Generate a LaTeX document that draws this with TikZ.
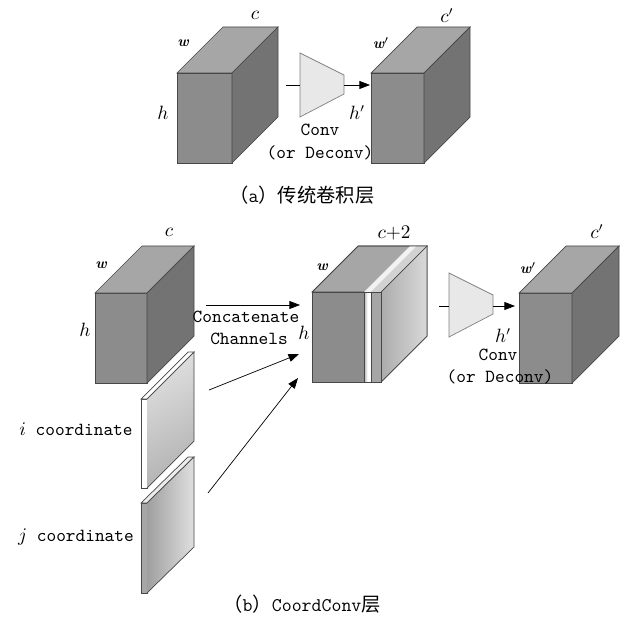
\documentclass[tikz,border=0pt]{standalone}
\usepackage{fontspec}
\newfontfamily\cjk{Noto Sans CJK SC}
\usetikzlibrary{arrows.meta}
\definecolor{cubefront}{gray}{0.55}
\definecolor{cubetop}{gray}{0.65}
\definecolor{cubeside}{gray}{0.45}
\definecolor{cubeedge}{gray}{0.28}
\definecolor{convfill}{gray}{0.91}
% cube: x, y (front top left), width, height, depth
\newcommand{\featcube}[5]{%
  \begin{scope}[shift={(#1,#2)}]
    \filldraw[cubefront, draw=cubeedge] (0,0) rectangle (#3,#4);
    \filldraw[cubetop, draw=cubeedge] (0,0) -- (#5,-#5) -- ({#3+#5},-#5) -- (#3,0) -- cycle;
    \filldraw[cubeside, draw=cubeedge] (#3,0) -- ({#3+#5},-#5) -- ({#3+#5},{#4-#5}) -- (#3,#4) -- cycle;
  \end{scope}}
% conv block: x, y of the left edge top
\newcommand{\convblock}[2]{%
  \begin{scope}[shift={(#1,#2)}]
    \filldraw[convfill, draw=gray] (0,0) -- (44,22) -- (44,41) -- (0,64) -- cycle;
  \end{scope}}
\newcommand{\wsym}{{\bfseries\itshape w}}

\begin{document}
\begin{tikzpicture}[x=0.02cm, y=-0.02cm, >={Triangle[length=6pt, width=4.5pt]},
    lbl/.style={inner sep=0pt, font=\fontsize{10.5}{12}\selectfont},
    wlbl/.style={inner sep=0pt, font=\fontsize{8.5}{10}\selectfont},
    txt/.style={inner sep=0pt, font=\ttfamily\fontsize{10.5}{12}\selectfont},
    captext/.style={inner sep=0pt, font=\cjk\fontsize{11}{13}\selectfont}]
  \useasboundingbox[fill=white] (0,0) rectangle (624,624);
  % (a) conventional layer
  \featcube{177}{73}{55}{90}{46}
  \convblock{300}{53}
  \featcube{371}{73}{53}{90}{46}
  \coordinate (convAin) at (286,85);
  \coordinate (convAl) at (300,85);
  \coordinate (convAr) at (344,85);
  \coordinate (cubeAout) at (370,85);
  \draw (convAin) -- (convAl);
  \draw[->] (convAr) -- (cubeAout);
  \node[lbl] (cA) at (255,15) {$c$};
  \node[wlbl] (wA) at (183,43) {\wsym};
  \node[lbl] (hA) at (163,113) {$h$};
  \node[txt] (convA) at (320,130) {Conv};
  \node[txt] (deconvA) at (320,153) {(or Deconv)};
  \node[lbl] (hpA) at (357,113) {$h'$};
  \node[wlbl] (wpA) at (381,43) {\wsym$'$};
  \node[lbl] (cpA) at (447,16) {$c'$};
  \node[captext] (capA) at (302,195) {（{\ttfamily a}）传统卷积层};
  % (b) CoordConv layer
  \featcube{95}{293}{52}{90}{47}
  % i coordinate slab
  \fill[white] (141,399) rectangle (147,488);
  \draw[cubeedge] (141,399) rectangle (147,488);
  \filldraw[white, draw=cubeedge] (141,399) -- (188,352) -- (194,352) -- (147,399) -- cycle;
  \shade[top color=gray!25, bottom color=gray!60, shading angle=30]
    (147,399) -- (194,352) -- (194,441) -- (147,488) -- cycle;
  \draw[cubeedge] (147,399) -- (194,352) -- (194,441) -- (147,488);
  % j coordinate slab
  \fill[gray!70] (141,503) rectangle (147,593);
  \draw[cubeedge] (141,503) rectangle (147,593);
  \filldraw[gray!15, draw=cubeedge] (141,503) -- (188,457) -- (194,457) -- (147,503) -- cycle;
  \shade[left color=gray!75, right color=gray!25]
    (147,503) -- (194,457) -- (194,547) -- (147,593) -- cycle;
  \draw[cubeedge] (147,503) -- (194,457) -- (194,547) -- (147,593);
  % concatenated cube
  \featcube{312}{292}{69}{90}{46}
  \fill[left color=gray!60, right color=white, middle color=white] (364,292) rectangle (371,382);
  \fill[gray!10] (364,292) -- (410,246) -- (417,246) -- (371,292) -- cycle;
  \fill[gray!70] (371,292) rectangle (381,382);
  \fill[gray!35] (371,292) -- (417,246) -- (427,246) -- (381,292) -- cycle;
  \shade[left color=gray!65, right color=gray!30]
    (381,292) -- (427,246) -- (427,336) -- (381,382) -- cycle;
  \draw[cubeedge] (312,292) rectangle (381,382);
  \draw[cubeedge] (312,292) -- (358,246) -- (427,246) -- (427,336) -- (381,382);
  \draw[cubeedge] (381,292) -- (427,246);
  \draw[cubeedge, thin] (364,292) -- (364,382) (371,292) -- (371,382);
  \convblock{449}{273}
  \featcube{519}{293}{53}{90}{47}
  \coordinate (cubeBout) at (206,305);
  \coordinate (slabIout) at (209,390);
  \coordinate (slabJout) at (208,493);
  \coordinate (catTop) at (300,305);
  \coordinate (catMid) at (299,354);
  \coordinate (catLow) at (298,378);
  \coordinate (convBin) at (439,306);
  \coordinate (convBl) at (449,306);
  \coordinate (convBr) at (493,306);
  \coordinate (cubeCin) at (515,306);
  \draw[->] (cubeBout) -- (catTop);
  \draw[->] (slabIout) -- (catMid);
  \draw[->] (slabJout) -- (catLow);
  \draw (convBin) -- (convBl);
  \draw[->] (convBr) -- (cubeCin);
  \node[lbl] (cB) at (169,232) {$c$};
  \node[wlbl] (wB) at (101,265) {\wsym};
  \node[lbl] (hB) at (85,330) {$h$};
  \node[txt] (iLbl) at (76,429) {$i$ coordinate};
  \node[txt] (jLbl) at (76,537) {$j$ coordinate};
  \node[txt] (concat) at (246,317) {Concatenate};
  \node[txt] (chan) at (249,339) {Channels};
  \node[lbl] (hCat) at (304,333) {$h$};
  \node[lbl] (cCat) at (394,233) {$c{+}2$};
  \node[wlbl] (wCat) at (322,267) {\wsym};
  \node[txt] (convB) at (498,355) {Conv};
  \node[txt] (deconvB) at (500,377) {(or Deconv)};
  \node[lbl] (hpB) at (503,336) {$h'$};
  \node[wlbl] (wpB) at (528,268) {\wsym$'$};
  \node[lbl] (cpB) at (597,232) {$c'$};
  \node[captext] (capB) at (302,604) {（{\ttfamily b}）{\ttfamily CoordConv}层};
\end{tikzpicture}
\end{document}
